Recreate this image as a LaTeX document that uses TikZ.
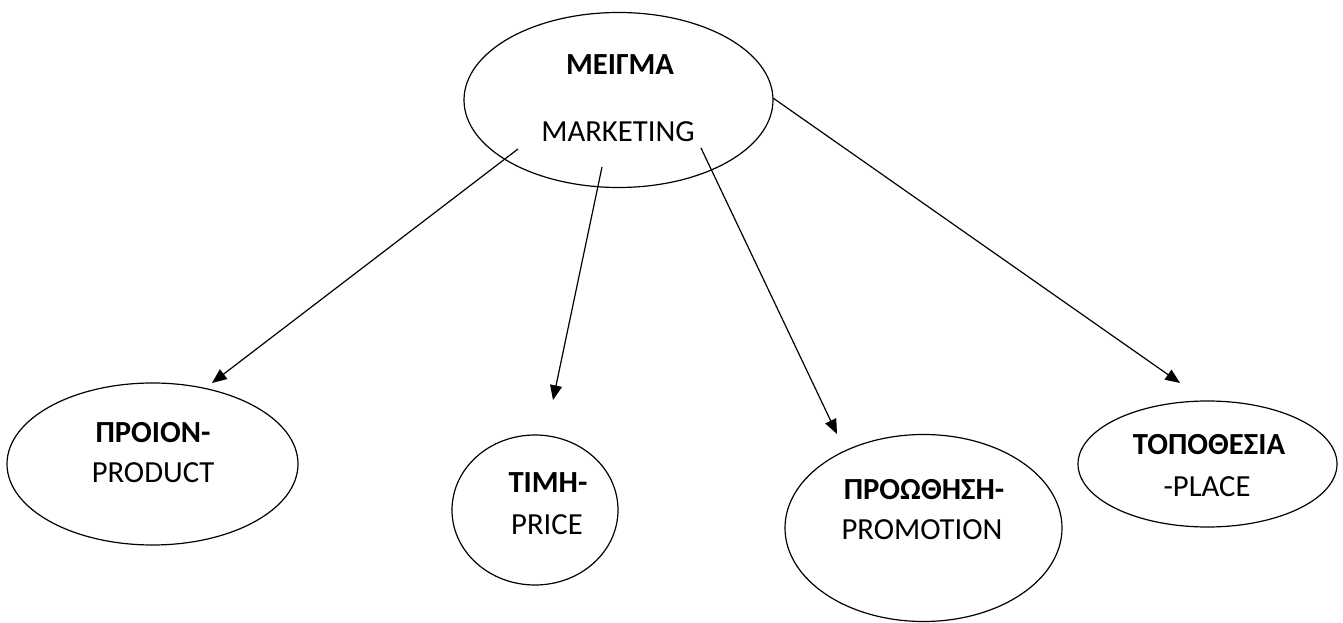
\documentclass[tikz,border=0pt]{standalone}
\usepackage{fontspec}
\setmainfont{Carlito}
\usetikzlibrary{shapes.geometric,arrows.meta}
\begin{document}
\begin{tikzpicture}[x=0.75pt,y=-0.75pt,
  bubble/.style={draw,ellipse,line width=0.9pt,inner sep=0pt},
  lbl/.style={anchor=base,inner sep=0pt,font=\fontsize{23pt}{28pt}\selectfont},
  lblb/.style={lbl,font=\fontsize{23pt}{28pt}\selectfont\bfseries},
  link/.style={line width=0.9pt,-{Triangle[length=11pt,width=9pt]}}]
\useasboundingbox (0,0) rectangle (1343,623);

% ellipses
\node[bubble,minimum width=309*0.75pt,minimum height=175*0.75pt] (mix) at (618.5,100) {};
\node[bubble,minimum width=291*0.75pt,minimum height=162*0.75pt] (prod) at (152.5,464) {};
\node[bubble,minimum width=166*0.75pt,minimum height=150*0.75pt] (price) at (535,510) {};
\node[bubble,minimum width=277*0.75pt,minimum height=187*0.75pt] (promo) at (923.5,528) {};
\node[bubble,minimum width=259*0.75pt,minimum height=126*0.75pt] (place) at (1207.5,464) {};

% labels
\node[lblb] (mixa) at (620,75) {ΜΕΙΓΜΑ};
\node[lbl]  (mixb) at (618,142) {MARKETING};
\node[lblb] (proda) at (153,443) {ΠΡΟΙΟΝ-};
\node[lbl]  (prodb) at (153,483) {PRODUCT};
\node[lblb] (pricea) at (548,493) {ΤΙΜΗ-};
\node[lbl]  (priceb) at (547,535) {PRICE};
\node[lblb] (promoa) at (924,500) {ΠΡΟΩΘΗΣΗ-};
\node[lbl]  (promob) at (922,540) {PROMOTION};
\node[lblb] (placea) at (1209,455) {ΤΟΠΟΘΕΣΙΑ};
\node[lbl]  (placeb) at (1207,497) {-PLACE};

% arrow ends
\coordinate (s1) at (518,149);
\coordinate (e1) at (212,383);
\coordinate (s2) at (602,167);
\coordinate (e2) at (553,400);
\coordinate (s3) at (701,148);
\coordinate (e3) at (837,434);
\coordinate (s4) at (773,98);
\coordinate (e4) at (1180,383);

\draw[link] (s1) -- (e1);
\draw[link] (s2) -- (e2);
\draw[link] (s3) -- (e3);
\draw[link] (s4) -- (e4);
\end{tikzpicture}
\end{document}
